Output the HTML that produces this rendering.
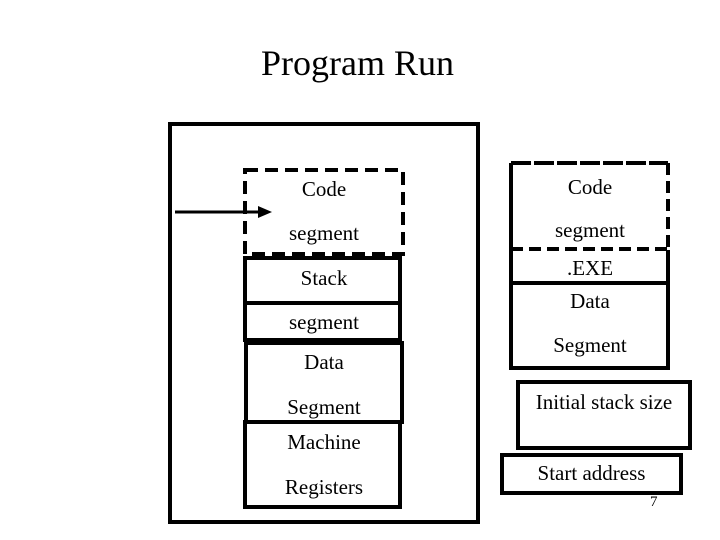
<!DOCTYPE html>
<html><head><style>
body{margin:0;width:720px;height:540px;background:#fff;position:relative;overflow:hidden;font-family:"Liberation Serif",serif;}
.b{position:absolute;box-sizing:border-box;border:4px solid #000;}
.t{position:absolute;font-size:21px;text-align:center;white-space:nowrap;line-height:24px;}
</style></head><body>
<div class="t" style="left:200px;width:315px;top:43px;font-size:36px;line-height:40px">Program Run</div>
<div class="b" style="left:168px;top:122px;width:312px;height:402px"></div>
<svg style="position:absolute;left:0;top:0" width="720" height="540">
<rect x="245" y="170" width="158" height="84" fill="none" stroke="#000" stroke-width="4" stroke-dasharray="13,7"/>
<line x1="511" y1="163" x2="668" y2="163" stroke="#000" stroke-width="4" stroke-dasharray="20,3"/>
<line x1="668" y1="163" x2="668" y2="250" stroke="#000" stroke-width="4" stroke-dasharray="12,6"/>
<line x1="668" y1="250" x2="668" y2="368" stroke="#000" stroke-width="4"/>
<line x1="511" y1="163" x2="511" y2="368" stroke="#000" stroke-width="4"/>
<line x1="509" y1="368" x2="670" y2="368" stroke="#000" stroke-width="4"/>
<line x1="511" y1="249" x2="668" y2="249" stroke="#000" stroke-width="4" stroke-dasharray="12,6"/>
<line x1="511" y1="283" x2="668" y2="283" stroke="#000" stroke-width="4"/>
<line x1="175" y1="212" x2="262" y2="212" stroke="#000" stroke-width="3"/>
<polygon points="258,206 272,212 258,218" fill="#000"/>
</svg>
<div class="b" style="left:243px;top:256px;width:159px;height:49px"></div>
<div class="b" style="left:243px;top:301px;width:159px;height:41px"></div>
<div class="b" style="left:244px;top:341px;width:160px;height:83px"></div>
<div class="b" style="left:243px;top:420px;width:159px;height:89px"></div>
<div class="t" style="left:245px;width:158px;top:177px">Code</div>
<div class="t" style="left:245px;width:158px;top:221px">segment</div>
<div class="t" style="left:245px;width:158px;top:266px">Stack</div>
<div class="t" style="left:245px;width:158px;top:310px">segment</div>
<div class="t" style="left:245px;width:158px;top:350px">Data</div>
<div class="t" style="left:245px;width:158px;top:395px">Segment</div>
<div class="t" style="left:245px;width:158px;top:430px">Machine</div>
<div class="t" style="left:245px;width:158px;top:475px">Registers</div>

<div class="t" style="left:510px;width:160px;top:175px">Code</div>
<div class="t" style="left:510px;width:160px;top:218px">segment</div>
<div class="t" style="left:510px;width:160px;top:256px">.EXE</div>
<div class="t" style="left:510px;width:160px;top:289px">Data</div>
<div class="t" style="left:510px;width:160px;top:333px">Segment</div>
<div class="b" style="left:516px;top:380px;width:176px;height:70px"></div>
<div class="t" style="left:518px;width:172px;top:390px">Initial stack size</div>
<div class="b" style="left:500px;top:453px;width:183px;height:42px"></div>
<div class="t" style="left:502px;width:179px;top:461px">Start address</div>
<div class="t" style="left:650px;top:494px;font-size:15px;line-height:16px">7</div>
</body></html>
